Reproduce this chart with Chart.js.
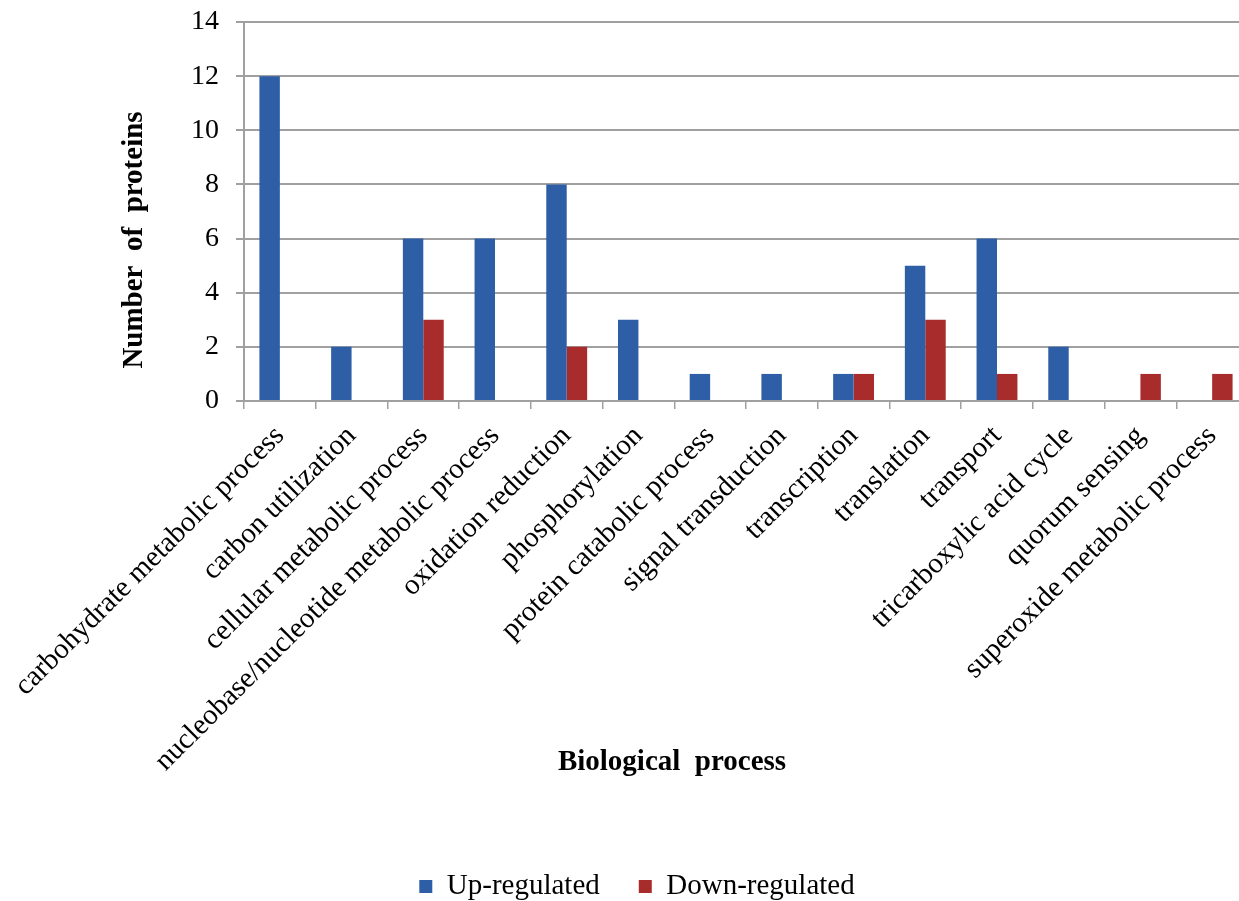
<!DOCTYPE html>
<html>
<head>
<meta charset="utf-8">
<script src="https://cdn.jsdelivr.net/npm/chart.js@4/dist/chart.umd.min.js"></script>
<style>
html,body{margin:0;padding:0;background:#fff;overflow:hidden;}
canvas{display:block;}
</style>
</head>
<body>
<canvas id="c" width="1248" height="911" style="width:1248px;height:911px"></canvas>
<script>
const categories = [
  "carbohydrate metabolic process",
  "carbon utilization",
  "cellular metabolic process",
  "nucleobase/nucleotide metabolic process",
  "oxidation reduction",
  "phosphorylation",
  "protein catabolic process",
  "signal transduction",
  "transcription",
  "translation",
  "transport",
  "tricarboxylic acid cycle",
  "quorum sensing",
  "superoxide metabolic process"
];
const upRegulated   = [12, 2, 6, 6, 8, 3, 1, 1, 1, 5, 6, 2, 0, 0];
const downRegulated = [0, 0, 3, 0, 2, 0, 0, 0, 1, 3, 1, 0, 1, 1];
const seriesNames = ["Up-regulated", "Down-regulated"];
const yTicks = [0, 2, 4, 6, 8, 10, 12, 14];
const xTitle = "Biological  process";
const yTitle = "Number  of  proteins";

const FONT = '"Liberation Serif", "Times New Roman", serif';
const GRID = '#a0a0a0';

// draws the two axis titles beside the chart area
const axisTitles = {
  id: 'axisTitles',
  afterDraw(chart) {
    const {ctx, chartArea} = chart;
    ctx.save();
    ctx.fillStyle = '#000';
    ctx.font = 'bold 29px ' + FONT;
    ctx.textAlign = 'center';
    ctx.textBaseline = 'middle';
    ctx.fillText(xTitle, chartArea.left + 428, chartArea.bottom + 362);
    ctx.translate(135, chartArea.top + 218);
    ctx.rotate(-Math.PI / 2);
    ctx.fillText(yTitle, 0, 0);
    ctx.restore();
  }
};

new Chart(document.getElementById('c'), {
  type: 'bar',
  data: {
    labels: categories,
    datasets: [
      { label: seriesNames[0], data: upRegulated, backgroundColor: '#2e5ea6', borderWidth: 0,
        categoryPercentage: 0.57, barPercentage: 1.0 },
      { label: seriesNames[1], data: downRegulated, backgroundColor: '#a92c2c', borderWidth: 0,
        categoryPercentage: 0.57, barPercentage: 1.0 }
    ]
  },
  plugins: [axisTitles],
  options: {
    responsive: false,
    animation: false,
    devicePixelRatio: 1,
    layout: { padding: { left: 26, top: 22, right: 0, bottom: 0 } },
    plugins: {
      tooltip: { enabled: false },
      legend: {
        position: 'bottom',
        labels: {
          font: { family: FONT, size: 29 },
          color: '#000',
          boxWidth: 13,
          boxHeight: 13,
          padding: 39
        }
      }
    },
    scales: {
      x: {
        offset: true,
        grid: { display: true, drawOnChartArea: false, drawTicks: true, tickLength: 8, color: GRID, lineWidth: 1.5, offset: true },
        border: { display: true, color: GRID, width: 2 },
        ticks: {
          autoSkip: false, minRotation: 45, maxRotation: 45,
          font: { family: FONT, size: 29 }, color: '#000', padding: 10
        },
        afterFit: (s) => { s.height = 432; s.paddingLeft = 0; s.paddingRight = 0; }
      },
      y: {
        min: 0, max: 14,
        afterBuildTicks: (s) => { s.ticks = yTicks.map(v => ({ value: v })); },
        grid: { color: GRID, lineWidth: 2, tickLength: 8, drawTicks: true },
        border: { display: true, color: GRID, width: 2 },
        ticks: { font: { family: FONT, size: 28 }, color: '#000', padding: 17 },
        afterFit: (s) => { s.width = 218; s.paddingTop = 0; s.paddingBottom = 0; }
      }
    }
  }
});
</script>
</body>
</html>
